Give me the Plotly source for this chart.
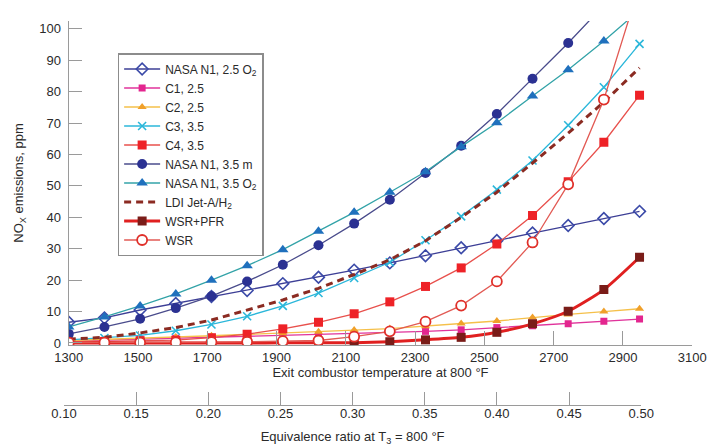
import plotly.graph_objects as go

# Exit combustor temperature (°F) at each data point
temp_f = [1300, 1403, 1506, 1609, 1712, 1815, 1918, 2021, 2124, 2227,
          2330, 2433, 2536, 2639, 2742, 2845, 2948]

nasa_25_o2 = [6.6, 8.0, 10.5, 12.6, 14.8, 16.7, 18.9, 20.9, 23.2, 25.5,
              27.8, 30.3, 32.6, 35.0, 37.4, 39.6, 41.9]
c1_25 = [0.6, 0.9, 1.2, 1.5, 1.8, 2.0, 2.3, 2.6, 2.9, 3.3,
         3.7, 4.2, 4.9, 5.5, 6.1, 6.9, 7.6]
c2_25 = [0.8, 1.1, 1.5, 1.9, 2.3, 2.7, 3.1, 3.6, 4.1, 4.6,
         5.3, 6.2, 7.0, 8.1, 9.1, 10.0, 10.9]
c3_35 = [1.0, 1.6, 2.4, 3.9, 5.9, 8.5, 11.8, 15.9, 20.7, 25.7,
         32.7, 40.3, 48.8, 58.1, 69.3, 81.4, 95.2]
c4_35 = [0.3, 0.5, 0.7, 0.9, 1.7, 2.8, 4.5, 6.6, 9.3, 13.1,
         18.0, 23.9, 31.5, 40.6, 51.3, 63.9, 78.9]
nasa_35_m = [2.9, 5.1, 7.7, 11.1, 14.9, 19.6, 24.9, 31.1, 38.0, 45.6,
             54.1, 62.8, 72.9, 84.1, 95.5, 107.5]
nasa_35_o2 = [5.1, 8.3, 11.8, 15.6, 20.0, 24.6, 29.7, 35.6, 41.6, 48.0,
              54.5, 62.5, 70.1, 78.6, 87.0, 96.1, 106.0]
ldi_jeta_h2 = [1.2, 1.8, 3.2, 4.9, 7.3, 10.4, 13.7, 17.4, 21.8, 26.5,
               32.5, 40.0, 48.0, 57.3, 66.8, 76.7, 87.6]
wsr_pfr = [0.0, 0.0, 0.0, 0.0, 0.0, 0.0, 0.05, 0.05, 0.1, 0.4,
           1.0, 1.8, 3.4, 6.1, 10.1, 17.0, 27.3]
wsr = [0.1, 0.1, 0.15, 0.2, 0.3, 0.4, 0.6, 0.8, 2.0, 3.7,
       6.8, 11.9, 19.6, 32.0, 50.5, 77.5, 114.0]

x_ticks = [1300, 1500, 1700, 1900, 2100, 2300, 2500, 2700, 2900, 3100]
y_ticks = [0, 10, 20, 30, 40, 50, 60, 70, 80, 90, 100]
phi_ticks = [0.10, 0.15, 0.20, 0.25, 0.30, 0.35, 0.40, 0.45, 0.50]

FONT = "Liberation Sans, Arial, sans-serif"
AXIS_GRAY = "#9a9a9a"

series = [
    ("NASA N1, 2.5 O<sub>2</sub>", nasa_25_o2,
     dict(color="#3d3f96", width=1.3, dash="solid"),
     dict(symbol="diamond-open", size=9, color="#3b4aa8", line=dict(width=1.6, color="#3b4aa8"))),
    ("C1, 2.5", c1_25,
     dict(color="#e0339b", width=1.3, dash="solid"),
     dict(symbol="square", size=7, color="#e3268f")),
    ("C2, 2.5", c2_25,
     dict(color="#f5c04a", width=1.3, dash="solid"),
     dict(symbol="triangle-up", size=8, color="#f0a02a")),
    ("C3, 3.5", c3_35,
     dict(color="#2bb7da", width=1.3, dash="solid"),
     dict(symbol="x-thin", size=8, color="#2bb7da", line=dict(width=1.6, color="#2bb7da"))),
    ("C4, 3.5", c4_35,
     dict(color="#e8504c", width=1.3, dash="solid"),
     dict(symbol="square", size=9, color="#ee2227")),
    ("NASA N1, 3.5 m", nasa_35_m,
     dict(color="#4a4c8c", width=1.3, dash="solid"),
     dict(symbol="circle", size=10, color="#2b3192")),
    ("NASA N1, 3.5 O<sub>2</sub>", nasa_35_o2,
     dict(color="#33a3a8", width=1.3, dash="solid"),
     dict(symbol="triangle-up", size=10, color="#1f70bd")),
    ("LDI Jet-A/H<sub>2</sub>", ldi_jeta_h2,
     dict(color="#8b2b22", width=3, dash="7px,5px"),
     None),
    ("WSR+PFR", wsr_pfr,
     dict(color="#e02020", width=3, dash="solid", shape="spline", smoothing=0.6),
     dict(symbol="square", size=9, color="#7a1c18")),
    ("WSR", wsr,
     dict(color="#e25a54", width=1.3, dash="solid"),
     dict(symbol="circle", size=10, color="white", line=dict(width=1.8, color="#e0302a"))),
]

fig = go.Figure()
for name, vals, line, marker in series:
    kw = dict(x=temp_f[:len(vals)], y=vals, name=name, line=line,
              mode="lines+markers" if marker else "lines",
              xaxis="x", yaxis="y", cliponaxis=True)
    if marker:
        kw["marker"] = marker
    fig.add_trace(go.Scatter(**kw))

# carrier for the secondary (equivalence ratio) axis
fig.add_trace(go.Scatter(x=[], y=[], xaxis="x2", yaxis="y2", showlegend=False,
                         hoverinfo="skip"))

W, H = 716, 447
ML, MR, MT, MB = 50, 10, 13, 50
pw = W - ML - MR
ph = H - MT - MB

def px_x(p):
    return (p - ML) / pw

def px_y(p):
    return 1 - (p - MT) / ph

fig.update_layout(
    width=W, height=H,
    margin=dict(l=ML, r=MR, t=MT, b=MB),
    paper_bgcolor="white", plot_bgcolor="white",
    font=dict(family=FONT, size=13, color="#2a2a2a"),
    showlegend=True,
    legend=dict(x=px_x(110), y=px_y(45), xanchor="left", yanchor="top",
                bgcolor="white", bordercolor="#8c8c8c", borderwidth=1.5,
                font=dict(family=FONT, size=12, color="#2a2a2a"),
                itemwidth=36, tracegroupgap=0),
    xaxis=dict(domain=[px_x(60), px_x(698)], range=[1300, 3100],
               tickvals=x_ticks, ticks="inside", ticklen=14, tickcolor=AXIS_GRAY,
               tickwidth=1.3, showline=True, linecolor=AXIS_GRAY, linewidth=1.3,
               showgrid=False, zeroline=False, anchor="y", ticklabelstandoff=0,
               title=dict(text="Exit combustor temperature at 800 °F",
                          font=dict(size=13), standoff=3)),
    yaxis=dict(domain=[px_y(337), 1], range=[-0.64, 102.5],
               tickvals=y_ticks, ticks="inside", ticklen=13, tickcolor=AXIS_GRAY,
               tickwidth=1.3, showline=True, linecolor=AXIS_GRAY, linewidth=1.3,
               showgrid=False, zeroline=False, anchor="x", ticklabelstandoff=4,
               title=dict(text="NO<sub>X</sub> emissions, ppm",
                          font=dict(size=13), standoff=12)),
    xaxis2=dict(domain=[px_x(55), px_x(646)], range=[0.0999, 0.5001],
                tickvals=phi_ticks, tickformat=".2f", ticks="inside", ticklen=13,
                tickcolor=AXIS_GRAY, tickwidth=1.3, showline=True,
                linecolor=AXIS_GRAY, linewidth=1.3, showgrid=False,
                zeroline=False, anchor="y2", ticklabelstandoff=-4,
                title=dict(text="Equivalence ratio at T<sub>3</sub> = 800 °F",
                           font=dict(size=13), standoff=12)),
    yaxis2=dict(domain=[0, 0.005], visible=False, range=[0, 1], anchor="x2"),
)

fig.write_html("out.html")
